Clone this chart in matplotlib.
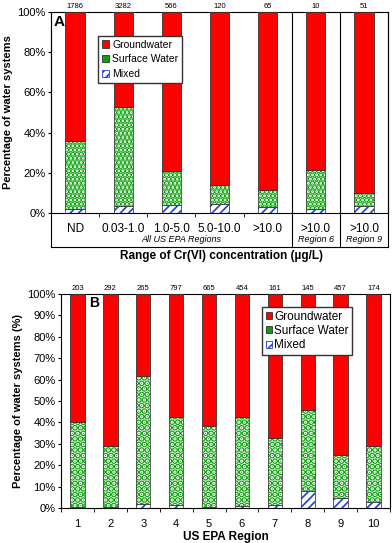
"""
Cr(VI) occurrence by water-source type: two stacked-bar panels (A, B).
"""
import numpy as np
import matplotlib
matplotlib.use("Agg")
import matplotlib.pyplot as plt
from matplotlib.patches import Patch

plt.rcParams["font.family"] = ["Liberation Sans", "DejaVu Sans"]

# --- data -----------------------------------------------------------------
# panel A: Cr(VI) concentration ranges
a_labels  = ["ND", "0.03-1.0", "1.0-5.0", "5.0-10.0", ">10.0", ">10.0", ">10.0"]
a_counts  = [1786, 3282, 566, 120, 65, 10, 51]
a_mixed   = [2.1, 3.5, 4.0, 4.5, 3.0, 2.0, 3.3]       # % of systems
a_surface = [33.9, 49.0, 17.0, 9.5, 8.3, 19.3, 6.7]
# groundwater = remainder up to 100 %

# panel B: US EPA regions
b_labels  = ["1", "2", "3", "4", "5", "6", "7", "8", "9", "10"]
b_counts  = [203, 292, 265, 797, 665, 454, 161, 145, 457, 174]
b_mixed   = [0.6, 0.5, 1.7, 1.6, 0.5, 1.1, 1.4, 8.1, 4.5, 2.7]
b_surface = [39.7, 28.5, 59.9, 40.7, 37.6, 41.2, 31.1, 37.7, 20.5, 26.1]

RED   = "#ff0000"
GREEN = "#0aa00a"
BLUE  = "#2040e0"
W, H  = 392, 543

fig = plt.figure(figsize=(W / 100, H / 100), dpi=100)

def px_axes(left, top, right, bottom):
    return fig.add_axes([left / W, 1 - bottom / H, (right - left) / W, (bottom - top) / H])

def stacked(ax, mixed, surface, width, dots, dot_lw):
    x = np.arange(len(mixed))
    mixed = np.asarray(mixed)
    surface = np.asarray(surface)
    ground = 100 - mixed - surface
    plt.rcParams["hatch.linewidth"] = 1.2
    ax.bar(x, mixed, width, color="white", edgecolor=BLUE, hatch="////", lw=0, zorder=2)
    ax.bar(x, mixed, width, fill=False, edgecolor="#444444", lw=0.6, zorder=3)
    plt.rcParams["hatch.linewidth"] = dot_lw
    ax.bar(x, surface, width, bottom=mixed, color="white", edgecolor=GREEN,
           hatch=dots, lw=0, zorder=2)
    plt.rcParams["hatch.linewidth"] = 1.2
    ax.bar(x, surface, width, bottom=mixed, fill=False, edgecolor="#444444", lw=0.6, zorder=3)
    ax.bar(x, ground, width, bottom=mixed + surface, color=RED,
           edgecolor="#333333", lw=0.6, zorder=3)
    return x

def legend_handles():
    return [Patch(facecolor=RED, edgecolor="#333333", lw=0.6, label="Groundwater"),
            Patch(facecolor=GREEN, edgecolor="#333333", lw=0.6, label="Surface Water"),
            Patch(facecolor="white", edgecolor=BLUE, hatch="////", lw=0.6, label="Mixed")]

# --- panel A --------------------------------------------------------------
axA = px_axes(51, 12, 388, 213)
xa = stacked(axA, a_mixed, a_surface, 0.4, "....", 2.6)
axA.set_xlim(-0.5, len(a_labels) - 0.5)
axA.set_ylim(0, 100)
axA.set_yticks(range(0, 101, 20))
axA.set_yticklabels([f"{v}%" for v in range(0, 101, 20)], fontsize=8)
axA.set_xticks([])
axA.set_xticks([0.5, 1.5, 2.5, 3.5], minor=True)
axA.tick_params(axis="x", which="minor", length=3, direction="out")
axA.tick_params(axis="y", length=2, pad=2)
for sp in axA.spines.values():
    sp.set_linewidth(0.8)
axA.set_ylabel("Percentage of water systems", fontsize=8, fontweight="bold", labelpad=3)

box_bottom = -34 / 201
trA = axA.get_xaxis_transform()
for xv in [-0.5, 4.5, 5.5, 6.5]:
    axA.plot([xv, xv], [box_bottom, 1], color="black", lw=0.8, transform=trA, clip_on=False)
axA.plot([-0.5, 6.5], [box_bottom, box_bottom], color="black", lw=0.8, transform=trA, clip_on=False)

for xi, lab in zip(xa, a_labels):
    axA.text(xi, -16 / 201, lab, transform=trA, ha="center", va="center", fontsize=8.5)
axA.text(2.2, -27 / 201, "All US EPA Regions", transform=trA, ha="center", va="center",
         fontsize=6.5, style="italic")
axA.text(5.0, -27 / 201, "Region 6", transform=trA, ha="center", va="center",
         fontsize=6.5, style="italic")
axA.text(6.0, -27 / 201, "Region 9", transform=trA, ha="center", va="center",
         fontsize=6.5, style="italic")
for xi, n in zip(xa, a_counts):
    axA.text(xi, 1 + 6 / 201, str(n), transform=trA, ha="center", va="center", fontsize=5.5)
axA.text(-0.33, 95, "A", fontsize=11, fontweight="bold", ha="center", va="center")
fig.text(222 / W, 1 - 256 / H, "Range of Cr(VI) concentration (µg/L)", ha="center",
         va="center", fontsize=8.5, fontweight="bold")
axA.legend(handles=legend_handles(), loc="upper left",
           bbox_to_anchor=(98 / W, 1 - 36 / H), bbox_transform=fig.transFigure,
           fontsize=7.5, frameon=True, fancybox=False, edgecolor="#333333",
           framealpha=1, handlelength=0.7, handleheight=0.7, handletextpad=0.3,
           borderpad=0.35, labelspacing=0.45, borderaxespad=0)

# --- panel B --------------------------------------------------------------
axB = px_axes(61, 294, 390, 508)
xb = stacked(axB, b_mixed, b_surface, 0.44, "...", 3.2)
axB.set_xlim(-0.5, len(b_labels) - 0.5)
axB.set_ylim(0, 100)
axB.set_yticks(range(0, 101, 10))
axB.set_yticklabels([f"{v}%" for v in range(0, 101, 10)], fontsize=8)
axB.set_xticks(xb)
axB.set_xticklabels(b_labels, fontsize=8)
axB.set_xticks(np.arange(-0.5, 10, 1), minor=True)
axB.tick_params(axis="x", which="major", length=0, pad=8)
axB.tick_params(axis="x", which="minor", length=3, direction="out")
axB.tick_params(axis="y", length=2, pad=2)
for sp in axB.spines.values():
    sp.set_linewidth(0.8)
axB.set_ylabel("Percentage of water systems (%)", fontsize=8, fontweight="bold", labelpad=3)
axB.set_xlabel("US EPA Region", fontsize=8.5, fontweight="bold", labelpad=1.5)
trB = axB.get_xaxis_transform()
for xi, n in zip(xb, b_counts):
    axB.text(xi, 1 + 6 / 214, str(n), transform=trB, ha="center", va="center", fontsize=5.5)
axB.text(0.5, 96, "B", fontsize=10, fontweight="bold", ha="center", va="center")
axB.legend(handles=legend_handles(), loc="upper left",
           bbox_to_anchor=(262 / W, 1 - 307 / H), bbox_transform=fig.transFigure,
           fontsize=8.5, frameon=True, fancybox=False, edgecolor="#333333",
           framealpha=1, handlelength=0.55, handleheight=0.55, handletextpad=0.2,
           borderpad=0.3, labelspacing=0.2, borderaxespad=0)

fig.savefig("out.png", dpi=100)
